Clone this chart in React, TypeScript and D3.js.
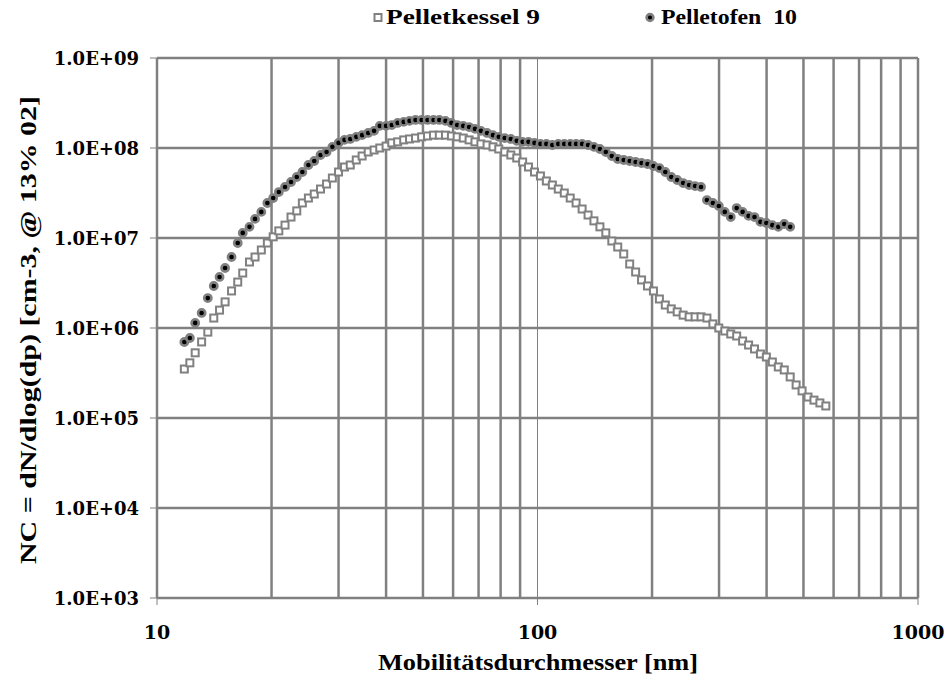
import { useEffect, useRef } from "react"
import * as d3 from "d3"

// SMPS channel midpoints [nm]
const channels = [
  11.8, 12.2, 12.6, 13.1, 13.6, 14.1, 14.6, 15.1, 15.7, 16.3,
  16.8, 17.5, 18.1, 18.8, 19.5, 20.2, 20.9, 21.7, 22.5, 23.3,
  24.1, 25.0, 25.9, 26.9, 27.9, 28.9, 30.0, 31.1, 32.2, 33.4,
  34.6, 35.9, 37.2, 38.5, 40.0, 41.4, 42.9, 44.5, 46.1, 47.8,
  49.6, 51.4, 53.3, 55.2, 57.3, 59.4, 61.5, 63.8, 66.1, 68.5,
  71.0, 73.7, 76.4, 79.1, 82.0, 85.1, 88.2, 91.4, 94.7, 98.2,
  101.8, 105.5, 109.4, 113.4, 117.6, 121.9, 126.3, 131.0, 135.8, 140.7,
  145.9, 151.2, 156.8, 162.5, 168.5, 174.7, 181.1, 187.7, 194.6, 201.7,
  209.1, 216.7, 224.7, 232.9, 241.4, 250.3, 259.5, 269.0, 278.8, 289.0,
  299.6, 310.6, 322.0, 333.8, 346.0, 358.7, 371.8, 385.4, 399.5, 414.2,
  429.4, 445.1, 461.4, 478.3, 495.8, 514.0, 532.8, 552.3, 572.5,
]

// Pelletkessel 9 (one value per channel)
const kessel = [
  3.5e5, 4.1e5, 5.3e5, 7.0e5, 9.0e5, 1.29e6, 1.58e6, 1.95e6, 2.58e6, 3.24e6,
  4.08e6, 5.41e6, 6.15e6, 7.36e6, 8.8e6, 1.03e7, 1.2e7, 1.39e7, 1.71e7, 2.0e7,
  2.45e7, 2.78e7, 3.08e7, 3.5e7, 3.98e7, 4.64e7, 5.41e7, 6.15e7, 6.47e7, 7.36e7,
  8.15e7, 9.03e7, 9.5e7, 1.0e8, 1.05e8, 1.14e8, 1.17e8, 1.23e8, 1.26e8, 1.29e8,
  1.33e8, 1.36e8, 1.39e8, 1.39e8, 1.39e8, 1.36e8, 1.33e8, 1.29e8, 1.23e8, 1.17e8,
  1.11e8, 1.08e8, 1.03e8, 9.75e7, 9.03e7, 8.36e7, 7.74e7, 6.99e7, 6.15e7, 5.41e7,
  4.89e7, 4.3e7, 3.88e7, 3.5e7, 3.16e7, 2.78e7, 2.45e7, 2.1e7, 1.8e7, 1.55e7,
  1.33e7, 1.14e7, 9.26e6, 7.94e6, 6.64e6, 5.14e6, 4.19e6, 3.42e6, 2.93e6, 2.58e6,
  2.1e6, 1.8e6, 1.63e6, 1.51e6, 1.39e6, 1.33e6, 1.33e6, 1.33e6, 1.29e6, 1.11e6,
  1.0e6, 9.26e5, 8.58e5, 8.15e5, 7.17e5, 6.47e5, 5.85e5, 5.14e5, 4.76e5, 4.19e5,
  3.69e5, 3.42e5, 2.86e5, 2.33e5, 2.0e5, 1.71e5, 1.58e5, 1.47e5, 1.36e5,
]

// Pelletofen 10 (channels 11.8 .. 461.4)
const ofen = [
  6.99e5, 7.74e5, 1.14e6, 1.47e6, 2.15e6, 2.93e6, 3.69e6, 4.64e6, 6.15e6, 8.8e6,
  1.14e7, 1.33e7, 1.63e7, 1.95e7, 2.45e7, 2.78e7, 3.24e7, 3.69e7, 4.19e7, 4.76e7,
  5.41e7, 6.47e7, 7.17e7, 8.36e7, 9.03e7, 1.03e8, 1.14e8, 1.23e8, 1.26e8, 1.33e8,
  1.39e8, 1.47e8, 1.55e8, 1.76e8, 1.76e8, 1.8e8, 1.9e8, 1.95e8, 2.0e8, 2.05e8,
  2.05e8, 2.05e8, 2.05e8, 2.05e8, 2.0e8, 1.9e8, 1.8e8, 1.76e8, 1.71e8, 1.63e8,
  1.55e8, 1.47e8, 1.39e8, 1.33e8, 1.29e8, 1.26e8, 1.2e8, 1.17e8, 1.17e8, 1.14e8,
  1.11e8, 1.11e8, 1.08e8, 1.11e8, 1.11e8, 1.11e8, 1.11e8, 1.11e8, 1.08e8, 1.03e8,
  9.75e7, 9.03e7, 8.15e7, 7.55e7, 7.36e7, 7.17e7, 6.99e7, 6.81e7, 6.64e7, 6.31e7,
  5.99e7, 5.41e7, 4.76e7, 4.41e7, 4.08e7, 3.88e7, 3.78e7, 3.69e7, 2.64e7, 2.45e7,
  2.27e7, 1.95e7, 1.71e7, 2.15e7, 1.95e7, 1.76e7, 1.71e7, 1.51e7, 1.47e7, 1.39e7,
  1.33e7, 1.43e7, 1.33e7,
]

const yTicks = [1e3, 1e4, 1e5, 1e6, 1e7, 1e8, 1e9]
const xMajor = [10, 100, 1000]
const xMinor = [20, 30, 40, 50, 60, 70, 80, 90, 200, 300, 400, 500, 600, 700, 800, 900]

const GRID = "#808080"
const FONT = "DejaVu Serif"
const TITLE_FONT = "Liberation Serif"

export default function App() {
  const svgRef = useRef<SVGSVGElement>(null)

  useEffect(() => {
    if (!svgRef.current) return
    const svg = d3.select(svgRef.current)
    svg.selectAll("*").remove()

    const left = 157, right = 918, top = 58, bottom = 598

    const x = d3.scaleLog().domain([10, 1000]).range([left, right])
    const y = d3.scaleLog().domain([1e3, 1e9]).range([bottom, top])

    const g = svg.append("g")

    // minor vertical grid
    g.selectAll("line.vminor")
      .data(xMinor)
      .enter()
      .append("line")
      .attr("x1", (d) => x(d))
      .attr("x2", (d) => x(d))
      .attr("y1", top)
      .attr("y2", bottom)
      .attr("stroke", GRID)
      .attr("stroke-width", 2.5)

    // major vertical at 100 is thin
    g.append("line")
      .attr("x1", x(100))
      .attr("x2", x(100))
      .attr("y1", top)
      .attr("y2", bottom)
      .attr("stroke", GRID)
      .attr("stroke-width", 1)

    // horizontal grid
    g.selectAll("line.h")
      .data(yTicks)
      .enter()
      .append("line")
      .attr("x1", left)
      .attr("x2", right)
      .attr("y1", (d) => y(d))
      .attr("y2", (d) => y(d))
      .attr("stroke", GRID)
      .attr("stroke-width", 2.5)

    // left axis + right border
    g.append("line")
      .attr("x1", left).attr("x2", left)
      .attr("y1", top).attr("y2", bottom)
      .attr("stroke", GRID).attr("stroke-width", 2.5)
    g.append("line")
      .attr("x1", right).attr("x2", right)
      .attr("y1", top).attr("y2", bottom)
      .attr("stroke", GRID).attr("stroke-width", 2.5)

    // tick marks + labels
    yTicks.forEach((t) => {
      g.append("line")
        .attr("x1", left - 7).attr("x2", left)
        .attr("y1", y(t)).attr("y2", y(t))
        .attr("stroke", GRID).attr("stroke-width", 1)
      g.append("text")
        .attr("x", left - 18)
        .attr("y", y(t))
        .attr("text-anchor", "end")
        .attr("dominant-baseline", "central")
        .attr("font-family", FONT)
        .attr("font-weight", "700")
        .attr("font-size", "18px")
        .attr("fill", "#000")
        .text(d3.format(".1e")(t).toUpperCase().replace(/E\+(\d)$/, "E+0$1"))
    })
    xMajor.forEach((t) => {
      g.append("line")
        .attr("x1", x(t)).attr("x2", x(t))
        .attr("y1", bottom).attr("y2", bottom + 7)
        .attr("stroke", GRID).attr("stroke-width", 1)
      g.append("text")
        .attr("x", x(t))
        .attr("y", bottom + 41)
        .attr("text-anchor", "middle")
        .attr("font-family", FONT)
        .attr("font-weight", "700")
        .attr("font-size", "19px")
        .attr("fill", "#000")
        .text(String(t))
    })

    // series: squares
    g.selectAll("rect.k")
      .data(kessel)
      .enter()
      .append("rect")
      .attr("x", (d, i) => x(channels[i]) - 3.5)
      .attr("y", (d) => y(d) - 3.5)
      .attr("width", 7)
      .attr("height", 7)
      .attr("fill", "#fff")
      .attr("stroke", GRID)
      .attr("stroke-width", 2)

    // series: circles
    g.selectAll("circle.o")
      .data(ofen)
      .enter()
      .append("circle")
      .attr("cx", (d, i) => x(channels[i]))
      .attr("cy", (d) => y(d))
      .attr("r", 3.6)
      .attr("fill", "#000")
      .attr("stroke", GRID)
      .attr("stroke-width", 2.6)

    // axis titles
    g.append("text")
      .attr("x", 538)
      .attr("y", 670)
      .attr("text-anchor", "middle")
      .attr("font-family", TITLE_FONT)
      .attr("font-weight", "700")
      .attr("font-size", "23px")
      .attr("textLength", 320)
      .attr("lengthAdjust", "spacingAndGlyphs")
      .attr("fill", "#000")
      .text("Mobilitätsdurchmesser [nm]")

    g.append("text")
      .attr("transform", `translate(36,330) rotate(-90)`)
      .attr("text-anchor", "middle")
      .attr("font-family", TITLE_FONT)
      .attr("font-weight", "700")
      .attr("font-size", "23px")
      .attr("textLength", 468)
      .attr("lengthAdjust", "spacingAndGlyphs")
      .attr("fill", "#000")
      .text("NC = dN/dlog(dp) [cm-3, @ 13% 02]")

    // legend
    const lg = g.append("g")
    lg.append("rect")
      .attr("x", 374.5).attr("y", 14)
      .attr("width", 7).attr("height", 7)
      .attr("fill", "#fff").attr("stroke", GRID).attr("stroke-width", 2)
    lg.append("text")
      .attr("x", 386).attr("y", 24)
      .attr("font-family", TITLE_FONT)
      .attr("font-weight", "700")
      .attr("font-size", "22px")
      .attr("textLength", 154)
      .attr("lengthAdjust", "spacingAndGlyphs")
      .attr("fill", "#000")
      .text("Pelletkessel 9")
    lg.append("circle")
      .attr("cx", 650).attr("cy", 17.5)
      .attr("r", 3.4)
      .attr("fill", "#000").attr("stroke", GRID).attr("stroke-width", 2.6)
    lg.append("text")
      .attr("x", 661).attr("y", 24)
      .attr("font-family", TITLE_FONT)
      .attr("font-weight", "700")
      .attr("font-size", "22px")
      .attr("fill", "#000")
      .attr("style", "white-space: pre")
      .attr("textLength", 136)
      .attr("lengthAdjust", "spacingAndGlyphs")
      .text("Pelletofen  10")
  }, [])

  return (
    <svg
      ref={svgRef}
      width={944}
      height={682}
      style={{ position: "absolute", left: 0, top: 0, background: "#fff" }}
    />
  )
}
